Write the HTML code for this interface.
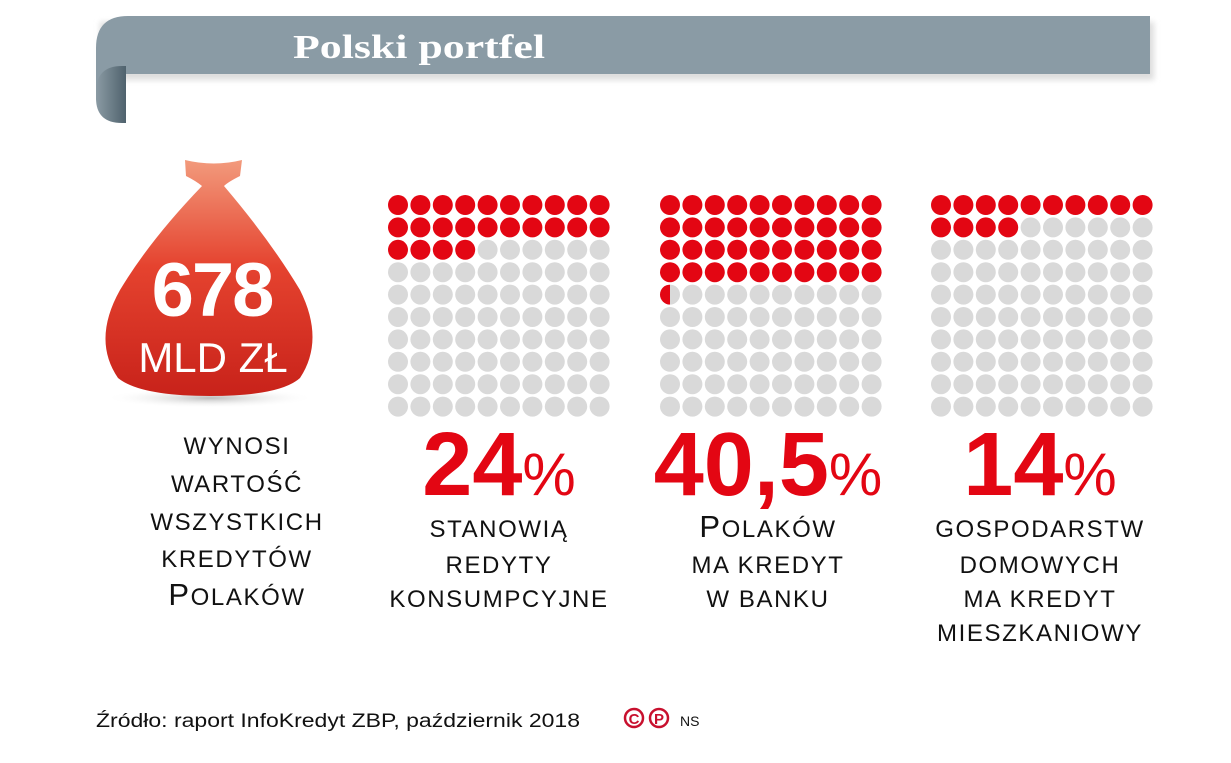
<!DOCTYPE html>
<html><head><meta charset="utf-8">
<style>
html,body{margin:0;padding:0;background:#fff;}
svg{display:block;}
.sc{font-family:"Liberation Sans",sans-serif;font-size:24px;letter-spacing:1.6px;fill:#111;text-anchor:middle;}
.cap{font-size:31px;}
.big{font-family:"Liberation Sans",sans-serif;font-weight:bold;fill:#e30613;font-size:90px;}
.pct{font-family:"Liberation Sans",sans-serif;fill:#e30613;font-size:60px;}
</style></head>
<body>
<svg id="chart" width="1231" height="763" viewBox="0 0 1231 763" xmlns="http://www.w3.org/2000/svg">
<defs>
<linearGradient id="curl" x1="0" x2="1" y1="0" y2="0"><stop offset="0" stop-color="#8b9ba4"/><stop offset="1" stop-color="#4f626d"/></linearGradient>
<linearGradient id="bag" x1="0" x2="0" y1="0" y2="1"><stop offset="0" stop-color="#f29a7c"/><stop offset="0.45" stop-color="#e5432f"/><stop offset="1" stop-color="#c8221a"/></linearGradient>
<radialGradient id="shadow"><stop offset="0" stop-color="#bbb"/><stop offset="1" stop-color="#fff" stop-opacity="0"/></radialGradient>
<filter id="bs"><feGaussianBlur stdDeviation="3"/></filter>
</defs>
<g>
<rect x="100" y="22" width="1054" height="58" fill="#ddd" filter="url(#bs)"/>
<path d="M96 100 L96 48 Q96 16 128 16 L1150 16 L1150 74 L126 74 Z" fill="#8a9ba5"/>
<path d="M126 66 L126 123 L122 123 Q96 123 96 98 L96 92 Q96 66 122 66 Z" fill="url(#curl)"/>
<text x="293" y="58" font-family="'Liberation Serif',serif" font-weight="bold" font-size="34" fill="#fff" textLength="252" lengthAdjust="spacingAndGlyphs">Polski portfel</text>
</g>
<g>
<ellipse cx="210" cy="398" rx="105" ry="10" fill="url(#shadow)"/>
<path d="M185 160 Q214 167 242 160 L240 176 Q228 182 224 186 Q270 240 300 290 Q325 340 300 378 Q280 396 210 396 Q140 396 118 378 Q92 340 120 290 Q150 240 202 186 Q196 181 186 176 Z" fill="url(#bag)"/>
<text x="212" y="316" font-family="'Liberation Sans',sans-serif" font-weight="bold" font-size="76" fill="#fff" text-anchor="middle" letter-spacing="-2">678</text>
<text x="213" y="372" font-family="'Liberation Sans',sans-serif" font-size="42" fill="#fff" text-anchor="middle">MLD ZŁ</text>
</g>
<g>
<text class="sc" x="237" y="454">WYNOSI</text>
<text class="sc" x="237" y="492">WARTOŚĆ</text>
<text class="sc" x="237" y="530">WSZYSTKICH</text>
<text class="sc" x="237" y="567">KREDYTÓW</text>
<text class="sc" x="237" y="605"><tspan class="cap">P</tspan>OLAKÓW</text>
</g>
<g id="grids"></g>
<g>
<text x="499" y="495" text-anchor="middle"><tspan class="big">24</tspan><tspan class="pct">%</tspan></text>
<text class="sc" x="499" y="537">STANOWIĄ</text>
<text class="sc" x="499" y="573">REDYTY</text>
<text class="sc" x="499" y="607">KONSUMPCYJNE</text>
</g>
<g>
<text x="768" y="495" text-anchor="middle"><tspan class="big">40,5</tspan><tspan class="pct">%</tspan></text>
<text class="sc" x="768" y="537"><tspan class="cap">P</tspan>OLAKÓW</text>
<text class="sc" x="768" y="573">MA KREDYT</text>
<text class="sc" x="768" y="607">W BANKU</text>
</g>
<g>
<text x="1040" y="495" text-anchor="middle"><tspan class="big">14</tspan><tspan class="pct">%</tspan></text>
<text class="sc" x="1040" y="537">GOSPODARSTW</text>
<text class="sc" x="1040" y="573">DOMOWYCH</text>
<text class="sc" x="1040" y="607">MA KREDYT</text>
<text class="sc" x="1040" y="641">MIESZKANIOWY</text>
</g>
<g>
<text x="96" y="727" font-family="'Liberation Sans',sans-serif" font-size="19" fill="#111" textLength="484" lengthAdjust="spacingAndGlyphs">Źródło: raport InfoKredyt ZBP, październik 2018</text>
<circle cx="634" cy="718" r="9" fill="none" stroke="#c8102e" stroke-width="2.5"/>
<text x="634" y="724" font-family="'Liberation Sans',sans-serif" font-weight="bold" font-size="15" fill="#c8102e" text-anchor="middle">C</text>
<circle cx="659" cy="718" r="9" fill="none" stroke="#c8102e" stroke-width="2.5"/>
<text x="659" y="724" font-family="'Liberation Sans',sans-serif" font-weight="bold" font-size="15" fill="#c8102e" text-anchor="middle">P</text>
<text x="680" y="726" font-family="'Liberation Sans',sans-serif" font-size="14" fill="#111">NS</text>
</g>
</svg>
<script>
const gridLabels = ["consumer", "bank-credit", "mortgage"];
const gridValues = [24, 40.5, 14];
const gridX0 = [398, 670, 941];
const NS = "http://www.w3.org/2000/svg";
const g = document.getElementById("grids");
const step = 22.4, r = 10, y0 = 205;
gridValues.forEach((v, gi) => {
  const grp = document.createElementNS(NS, "g");
  
  
  g.appendChild(grp);
  for (let i = 0; i < 100; i++) {
    const cx = gridX0[gi] + (i % 10) * step, cy = y0 + Math.floor(i / 10) * step;
    const c = document.createElementNS(NS, "circle");
    c.setAttribute("cx", cx); c.setAttribute("cy", cy); c.setAttribute("r", r);
    const fill = Math.max(0, Math.min(1, v - i));
    c.setAttribute("fill", fill >= 1 ? "#e30613" : "#d9d9d9");
    
    
    grp.appendChild(c);
    if (fill > 0 && fill < 1) {
      const cp = document.createElementNS(NS, "clipPath");
      cp.setAttribute("id", "cp" + gi);
      const rc = document.createElementNS(NS, "rect");
      rc.setAttribute("x", cx - r); rc.setAttribute("y", cy - r);
      rc.setAttribute("width", 2 * r * fill); rc.setAttribute("height", 2 * r);
      cp.appendChild(rc); grp.appendChild(cp);
      const p = document.createElementNS(NS, "circle");
      p.setAttribute("cx", cx); p.setAttribute("cy", cy); p.setAttribute("r", r);
      p.setAttribute("fill", "#e30613");
      p.setAttribute("clip-path", "url(#cp" + gi + ")");
      
      
      grp.appendChild(p);
    }
  }
});
</script>
</body></html>
